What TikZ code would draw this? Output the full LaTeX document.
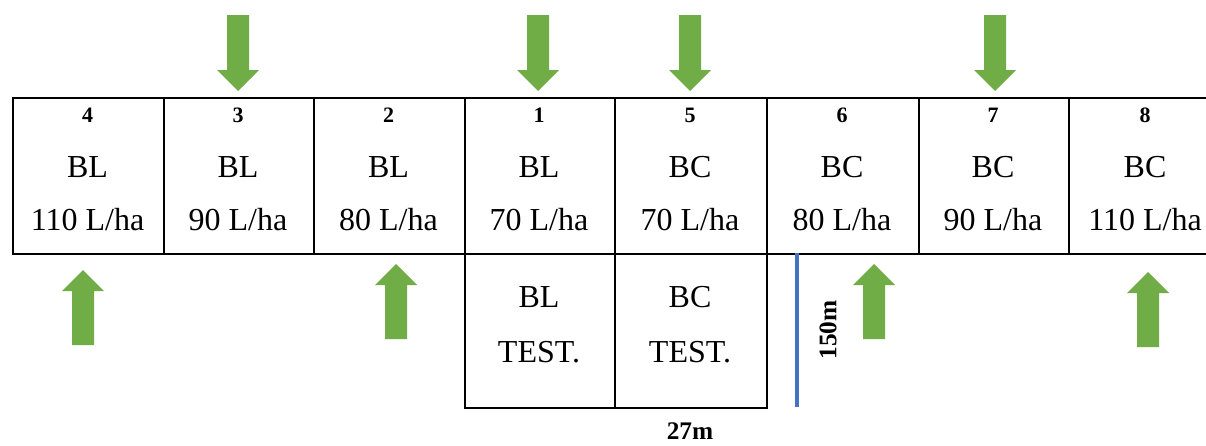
\documentclass[tikz,border=0pt]{standalone}
\usepackage{fontspec}
\setmainfont{Liberation Serif}
\definecolor{arrowgreen}{HTML}{70AD47}
\definecolor{lineblue}{HTML}{4472C4}
\begin{document}
\begin{tikzpicture}[x=0.75pt,y=-0.75pt,
  cellbox/.style={draw=black,line width=1.6pt,rectangle,inner sep=0pt,anchor=north west,
    minimum width=#1*0.75pt,minimum height=156*0.75pt},
  lowbox/.style={draw=black,line width=1.6pt,rectangle,inner sep=0pt,anchor=north west,
    minimum width=#1*0.75pt,minimum height=154*0.75pt},
  numtxt/.style={anchor=base,inner sep=0pt,font=\fontsize{16.5}{18}\selectfont\bfseries},
  maintxt/.style={anchor=base,inner sep=0pt,font=\fontsize{24}{28}\selectfont},
  dimtxt/.style={anchor=base,inner sep=0pt,font=\fontsize{19}{22}\selectfont\bfseries},
  downarr/.pic={\fill[arrowgreen] (-11,0) -- (11,0) -- (11,55) -- (21,55) -- (0,76) -- (-21,55) -- (-11,55) -- cycle;},
  uparr/.pic={\fill[arrowgreen] (0,0) -- (21,21) -- (11,21) -- (11,75) -- (-11,75) -- (-11,21) -- (-21,21) -- cycle;}
]
\clip (0,0) rectangle (1206,446);
\fill[white] (0,0) rectangle (1206,446);
% top row cells
\node[cellbox=151] (c4) at (12,97) {};
\node[cellbox=150] (c3) at (163,97) {};
\node[cellbox=151] (c2) at (313,97) {};
\node[cellbox=150] (c1) at (464,97) {};
\node[cellbox=152] (c5) at (614,97) {};
\node[cellbox=152] (c6) at (766,97) {};
\node[cellbox=150] (c7) at (918,97) {};
\node[cellbox=154] (c8) at (1068,97) {};
% lower cells
\node[lowbox=150] (t1) at (464,253) {};
\node[lowbox=152] (t5) at (614,253) {};
% texts
\foreach \cx/\n/\b/\r in {87.5/4/BL/110, 238/3/BL/90, 388.5/2/BL/80, 539/1/BL/70, 690/5/BC/70, 842/6/BC/80, 993/7/BC/90, 1145/8/BC/110}{
  \node[numtxt] (n\n) at (\cx,122) {\n};
  \node[maintxt] (b\n) at (\cx,177) {\b};
  \node[maintxt] (r\n) at (\cx,230) {\r{} L/ha};
}
\node[maintxt] (tb1) at (539,307) {BL};
\node[maintxt] (tt1) at (539,362) {TEST.};
\node[maintxt] (tb5) at (690,307) {BC};
\node[maintxt] (tt5) at (690,362) {TEST.};
% blue dimension line
\coordinate (bl1) at (797,253);
\coordinate (bl2) at (797,407);
\draw[lineblue,line width=2.4pt] (bl1) -- (bl2);
\node[dimtxt,rotate=90,anchor=center] (d150) at (828,330) {150m};
\node[dimtxt] (d27) at (690,439) {27m};
% arrows
\foreach \cx in {238,538,690,995}{ \pic at (\cx,15) {downarr}; }
\pic at (83,270) {uparr};
\pic at (396,264) {uparr};
\pic at (874,264) {uparr};
\pic at (1148,272) {uparr};
\end{tikzpicture}
\end{document}
